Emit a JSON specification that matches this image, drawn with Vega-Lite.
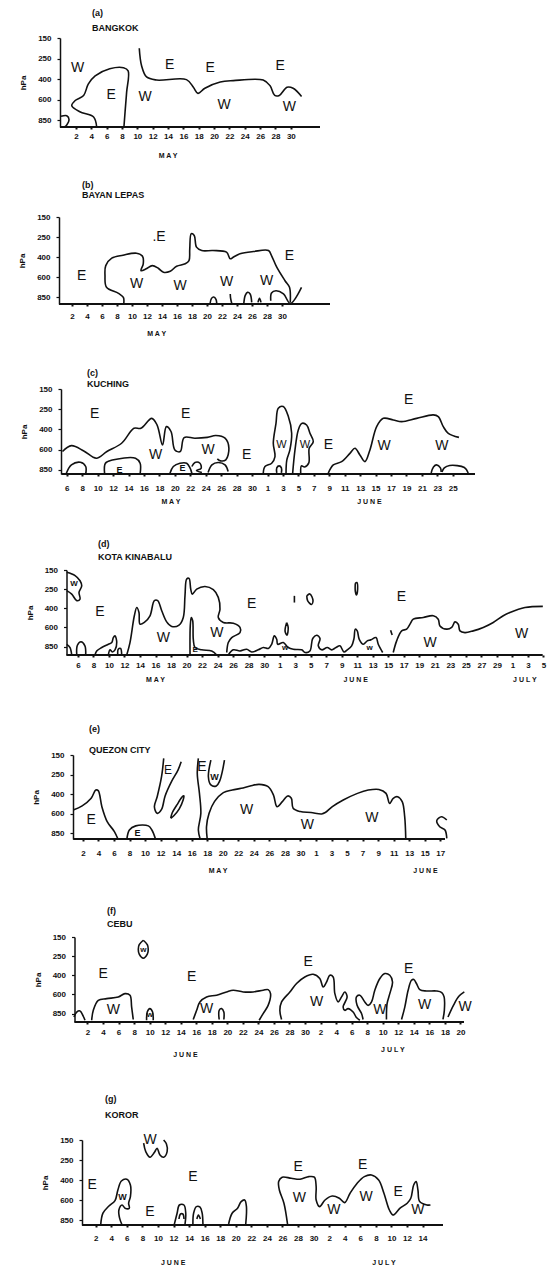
{
"$schema":"https://vega.github.io/schema/vega-lite/v6.json",
"padding":{"left":18,"top":8,"right":5,"bottom":0},
"spacing":20,
"config":{"view":{"stroke":null},
"axis":{"labelFont":"Liberation Sans","labelFontWeight":"bold","labelFontSize":8,"labelColor":"#111","domainColor":"#111","tickColor":"#111","titleFont":"Liberation Sans","titleFontSize":8,"titleFontWeight":"bold","titleColor":"#111","grid":false,"labelOverlap":false,"labelFlush":false,"labelBound":false},
"axisX":{"domain":false,"tickSize":2,"tickWidth":2},
"axisY":{"domainWidth":1.5,"tickSize":3,"tickWidth":1.2,"labelPadding":6,"titlePadding":10},
"title":{"font":"Liberation Sans","fontSize":9,"fontWeight":"bold","anchor":"start","frame":"group","color":"#111"},
"line":{"interpolate":"catmull-rom","strokeWidth":1.6,"color":"#111"},
"rule":{"strokeWidth":2,"color":"#111"},
"text":{"font":"Liberation Sans","color":"#111"}},
"vconcat":[
{"width":261,"height":89,
"title":{"text":["(a)","BANGKOK"],"dx":33,"offset":1.5,"lineHeight":15},
"encoding":{"x":{"field":"x","type":"quantitative","scale":{"domain":[-0.21,33.8],"nice":false,"zero":false},"axis":{"title":null,"values":[2,4,6,8,10,12,14,16,18,20,22,24,26,28,30],"labelPadding":3}},
"y":{"field":"y","type":"quantitative","scale":{"domain":[-0.34,4],"nice":false,"zero":false},"axis":{"title":"hPa","values":[0,1,2,3,4],"labelExpr":"['850','600','400','250','150'][datum.value]","offset":-1}}},
"layer":[
{"data":{"values":[{"x":-0.08,"x2":33.8,"y":-0.34}]},"mark":"rule","encoding":{"x2":{"field":"x2"}}},
{"data":{"values":[
{"g":"a1","x":0.05,"y":0.18},{"g":"a1","x":0.8,"y":0.21},{"g":"a1","x":1.1,"y":0.01},{"g":"a1","x":0.8,"y":-0.24},{"g":"a1","x":0.5,"y":-0.34},
{"g":"a2","x":4.7,"y":-0.34},{"g":"a2","x":4.3,"y":0.15},{"g":"a2","x":2.5,"y":0.4},{"g":"a2","x":1.45,"y":0.7},{"g":"a2","x":1.9,"y":0.95},{"g":"a2","x":3.0,"y":1.2},{"g":"a2","x":3.6,"y":1.75},{"g":"a2","x":4.5,"y":2.15},{"g":"a2","x":6.4,"y":2.5},{"g":"a2","x":8.2,"y":2.55},{"g":"a2","x":8.8,"y":2.4},{"g":"a2","x":8.6,"y":1.35},{"g":"a2","x":8.4,"y":0.4},{"g":"a2","x":8.25,"y":-0.34},
{"g":"a3","x":10.25,"y":3.5},{"g":"a3","x":10.55,"y":2.65},{"g":"a3","x":11.2,"y":2.1},{"g":"a3","x":12.5,"y":1.95},{"g":"a3","x":16.4,"y":1.97},{"g":"a3","x":17.3,"y":1.6},{"g":"a3","x":17.9,"y":1.3},{"g":"a3","x":18.8,"y":1.55},{"g":"a3","x":20.8,"y":1.85},{"g":"a3","x":22.5,"y":1.92},{"g":"a3","x":26.4,"y":1.95},{"g":"a3","x":27.3,"y":1.67},{"g":"a3","x":27.9,"y":1.2},{"g":"a3","x":28.5,"y":1.2},{"g":"a3","x":29.5,"y":1.6},{"g":"a3","x":30.3,"y":1.55},{"g":"a3","x":31.4,"y":1.15}
]},"mark":"line","encoding":{"detail":{"field":"g"},"order":{"value":null}}},
{"data":{"values":[{"x":2.2,"y":2.55,"t":"W"},{"x":6.6,"y":1.2,"t":"E"},{"x":11,"y":1.1,"t":"W"},{"x":14.2,"y":2.7,"t":"E"},{"x":19.5,"y":2.55,"t":"E"},{"x":21.3,"y":0.73,"t":"W"},{"x":28.6,"y":2.65,"t":"E"},{"x":29.8,"y":0.65,"t":"W"}]},"mark":{"type":"text","fontSize":14},"encoding":{"text":{"field":"t"}}},
{"data":{"values":[{"x":14.0,"y":-1.76,"t":"M A Y"}]},"mark":{"type":"text","fontSize":7,"fontWeight":"bold"},"encoding":{"text":{"field":"t"}}}
]},
{"width":271,"height":87,
"title":{"text":["(b)","BAYAN LEPAS"],"dx":23,"offset":13.3,"lineHeight":10},
"encoding":{"x":{"field":"x","type":"quantitative","scale":{"domain":[0.267,36.4],"nice":false,"zero":false},"axis":{"title":null,"values":[2,4,6,8,10,12,14,16,18,20,22,24,26,28,30],"labelPadding":6}},
"y":{"field":"y","type":"quantitative","scale":{"domain":[-0.33,4],"nice":false,"zero":false},"axis":{"title":"hPa","values":[0,1,2,3,4],"labelExpr":"['850','600','400','250','150'][datum.value]","offset":0}}},
"layer":[
{"data":{"values":[{"x":0.27,"x2":36.4,"y":-0.33}]},"mark":"rule","encoding":{"x2":{"field":"x2"}}},
{"data":{"values":[
{"g":"b1","x":8.9,"y":-0.33},{"g":"b1","x":8.85,"y":0},{"g":"b1","x":8.2,"y":0.2},{"g":"b1","x":6.6,"y":0.5},{"g":"b1","x":6.4,"y":1.08},{"g":"b1","x":6.5,"y":1.58},{"g":"b1","x":7.3,"y":1.95},{"g":"b1","x":8.8,"y":2.1},{"g":"b1","x":10.6,"y":2.2},{"g":"b1","x":11.4,"y":2.05},{"g":"b1","x":11.5,"y":1.67},{"g":"b1","x":11.2,"y":1.33},{"g":"b1","x":11.9,"y":1.42},{"g":"b1","x":12.7,"y":1.58},{"g":"b1","x":13.5,"y":1.45},{"g":"b1","x":14.2,"y":1.25},{"g":"b1","x":15.1,"y":1.3},{"g":"b1","x":15.95,"y":1.55},{"g":"b1","x":17.1,"y":1.67},{"g":"b1","x":17.6,"y":1.83},{"g":"b1","x":17.7,"y":2.4},{"g":"b1","x":17.9,"y":3.17},{"g":"b1","x":18.3,"y":3.08},{"g":"b1","x":18.6,"y":2.5},{"g":"b1","x":19.3,"y":2.33},{"g":"b1","x":20.8,"y":2.33},{"g":"b1","x":22.6,"y":2.25},{"g":"b1","x":23.1,"y":1.92},{"g":"b1","x":23.5,"y":2.0},{"g":"b1","x":24.4,"y":2.17},{"g":"b1","x":26.2,"y":2.28},{"g":"b1","x":28.2,"y":2.33},{"g":"b1","x":28.6,"y":2.08},{"g":"b1","x":29.3,"y":1.5},{"g":"b1","x":30.4,"y":0.83},{"g":"b1","x":31.0,"y":0.5},{"g":"b1","x":31.1,"y":-0.25},
{"g":"b2","x":28.5,"y":-0.17},{"g":"b2","x":28.6,"y":0.22},{"g":"b2","x":29.2,"y":0.33},{"g":"b2","x":30.2,"y":0.17},{"g":"b2","x":31.1,"y":-0.3},{"g":"b2","x":32.6,"y":0.5},
{"g":"b3","x":20.4,"y":-0.33},{"g":"b3","x":20.6,"y":-0.05},{"g":"b3","x":20.9,"y":0.02},{"g":"b3","x":21.2,"y":-0.1},{"g":"b3","x":21.3,"y":-0.3},
{"g":"b4","x":23.1,"y":0.17},{"g":"b4","x":23.15,"y":-0.05},{"g":"b4","x":23.3,"y":-0.3},
{"g":"b5","x":24.9,"y":-0.33},{"g":"b5","x":25.1,"y":0.1},{"g":"b5","x":25.4,"y":0.25},{"g":"b5","x":25.75,"y":0.17},{"g":"b5","x":25.96,"y":-0.25},
{"g":"b6","x":26.8,"y":-0.25},{"g":"b6","x":27.0,"y":-0.05},{"g":"b6","x":27.2,"y":-0.25}
]},"mark":"line","encoding":{"detail":{"field":"g"},"order":{"value":null}}},
{"data":{"values":[{"x":3.3,"y":1.08,"t":"E"},{"x":13.6,"y":3.0,"t":".E"},{"x":10.6,"y":0.67,"t":"W"},{"x":16.4,"y":0.58,"t":"W"},{"x":22.6,"y":0.75,"t":"W"},{"x":27.96,"y":0.83,"t":"W"},{"x":31,"y":2.08,"t":"E"}]},"mark":{"type":"text","fontSize":14},"encoding":{"text":{"field":"t"}}},
{"data":{"values":[{"x":13.3,"y":-1.84,"t":"M A Y"}]},"mark":{"type":"text","fontSize":7,"fontWeight":"bold"},"encoding":{"text":{"field":"t"}}}
]},
{"width":416,"height":85,
"title":{"text":["","(c)","KUCHING"],"dx":28,"offset":-4.3,"lineHeight":11},
"encoding":{"x":{"field":"x","type":"quantitative","scale":{"domain":[4.99,58.88],"nice":false,"zero":false},"axis":{"title":null,"values":[6,8,10,12,14,16,18,20,22,24,26,28,30,32,34,36,38,40,42,44,46,48,50,52,54,56],"labelExpr":"datum.value > 31 ? datum.value - 31 : datum.value","labelPadding":8}},
"y":{"field":"y","type":"quantitative","scale":{"domain":[-0.2,4],"nice":false,"zero":false},"axis":{"title":"hPa","values":[0,1,2,3,4],"labelExpr":"['850','600','400','250','150'][datum.value]","offset":-2}}},
"layer":[
{"data":{"values":[{"x":5.3,"x2":58.88,"y":-0.2}]},"mark":"rule","encoding":{"x2":{"field":"x2"}}},
{"data":{"values":[
{"g":"c1","x":5.44,"y":0.91},{"g":"c1","x":6.6,"y":1.2},{"g":"c1","x":8.2,"y":0.94},{"g":"c1","x":9.83,"y":0.58},{"g":"c1","x":11.2,"y":0.91},{"g":"c1","x":13.1,"y":1.32},{"g":"c1","x":14.7,"y":2.06},{"g":"c1","x":15.6,"y":2.06},{"g":"c1","x":17.0,"y":2.55},{"g":"c1","x":17.7,"y":2.22},{"g":"c1","x":18.4,"y":1.23},{"g":"c1","x":18.9,"y":2.14},{"g":"c1","x":19.5,"y":1.9},{"g":"c1","x":20.0,"y":0.99},{"g":"c1","x":20.7,"y":0.91},{"g":"c1","x":21.2,"y":1.6},{"g":"c1","x":22.6,"y":1.57},{"g":"c1","x":24.2,"y":1.61},{"g":"c1","x":25.3,"y":1.7},{"g":"c1","x":26.5,"y":1.57},{"g":"c1","x":27.0,"y":1.07},{"g":"c1","x":26.6,"y":0.5},{"g":"c1","x":25.9,"y":0.45},{"g":"c1","x":25.5,"y":0.55},
{"g":"c2","x":5.9,"y":-0.2},{"g":"c2","x":6.6,"y":0.25},{"g":"c2","x":7.76,"y":0.38},{"g":"c2","x":8.45,"y":0.17},{"g":"c2","x":8.45,"y":-0.2},
{"g":"c3","x":10.9,"y":-0.2},{"g":"c3","x":11.0,"y":0.33},{"g":"c3","x":11.9,"y":0.49},{"g":"c3","x":14.9,"y":0.58},{"g":"c3","x":15.5,"y":0.33},{"g":"c3","x":15.5,"y":-0.2},
{"g":"c4","x":19.37,"y":-0.16},{"g":"c4","x":19.8,"y":0.17},{"g":"c4","x":20.66,"y":0.33},{"g":"c4","x":21.53,"y":0.33},{"g":"c4","x":21.96,"y":0.1},{"g":"c4","x":22.2,"y":-0.16},
{"g":"c5","x":22.2,"y":0.17},{"g":"c5","x":22.6,"y":0.37},{"g":"c5","x":23.25,"y":0.33},{"g":"c5","x":23.4,"y":0.08},{"g":"c5","x":22.8,"y":-0.03},{"g":"c5","x":23.5,"y":-0.13},
{"g":"c6","x":24.3,"y":-0.13},{"g":"c6","x":24.8,"y":0.25},{"g":"c6","x":25.6,"y":0.37},{"g":"c6","x":26.5,"y":0.25},{"g":"c6","x":26.9,"y":-0.08},
{"g":"c7","x":31.45,"y":-0.16},{"g":"c7","x":31.67,"y":0.17},{"g":"c7","x":32.54,"y":0.33},{"g":"c7","x":32.97,"y":0.66},{"g":"c7","x":32.75,"y":1.32},{"g":"c7","x":33.1,"y":2.3},{"g":"c7","x":33.4,"y":3.05},{"g":"c7","x":34.04,"y":3.13},{"g":"c7","x":34.7,"y":2.64},{"g":"c7","x":35.13,"y":1.81},{"g":"c7","x":34.9,"y":0.99},{"g":"c7","x":34.5,"y":0.49},{"g":"c7","x":34.4,"y":-0.16},
{"g":"c8","x":33.2,"y":-0.15},{"g":"c8","x":33.2,"y":0.1},{"g":"c8","x":33.5,"y":0.2},{"g":"c8","x":33.8,"y":0.1},{"g":"c8","x":33.8,"y":-0.15},
{"g":"c9","x":35.26,"y":-0.16},{"g":"c9","x":35.56,"y":0.99},{"g":"c9","x":35.99,"y":1.98},{"g":"c9","x":36.43,"y":2.3},{"g":"c9","x":37.07,"y":2.22},{"g":"c9","x":37.5,"y":1.81},{"g":"c9","x":37.93,"y":1.4},{"g":"c9","x":37.4,"y":1.07},{"g":"c9","x":37.35,"y":0.35},{"g":"c9","x":36.8,"y":0.15},{"g":"c9","x":36.4,"y":0.2},{"g":"c9","x":36.3,"y":-0.16},
{"g":"c10","x":39.87,"y":-0.16},{"g":"c10","x":40.52,"y":0.25},{"g":"c10","x":41.6,"y":0.41},{"g":"c10","x":42.68,"y":0.82},{"g":"c10","x":43.33,"y":1.07},{"g":"c10","x":43.97,"y":0.74},{"g":"c10","x":44.62,"y":0.41},{"g":"c10","x":45.27,"y":0.99},{"g":"c10","x":46.14,"y":2.14},{"g":"c10","x":47.0,"y":2.55},{"g":"c10","x":48.3,"y":2.47},{"g":"c10","x":49.38,"y":2.39},{"g":"c10","x":51.32,"y":2.55},{"g":"c10","x":53.47,"y":2.72},{"g":"c10","x":54.12,"y":2.64},{"g":"c10","x":54.77,"y":2.14},{"g":"c10","x":55.42,"y":1.81},{"g":"c10","x":56.8,"y":1.61},
{"g":"c11","x":53.2,"y":-0.15},{"g":"c11","x":53.5,"y":0.15},{"g":"c11","x":53.9,"y":0.25},{"g":"c11","x":54.4,"y":0.1},{"g":"c11","x":54.5,"y":-0.1},
{"g":"c12","x":54.6,"y":-0.1},{"g":"c12","x":54.9,"y":0.1},{"g":"c12","x":55.6,"y":0.22},{"g":"c12","x":57.5,"y":0.12},{"g":"c12","x":58.0,"y":-0.15}
]},"mark":"line","encoding":{"detail":{"field":"g"},"order":{"value":null}}},
{"data":{"values":[{"x":9.6,"y":2.75,"t":"E"},{"x":21.4,"y":2.75,"t":"E"},{"x":17.5,"y":0.74,"t":"W"},{"x":24.3,"y":0.99,"t":"W"},{"x":29.3,"y":0.74,"t":"E"},{"x":39.9,"y":1.23,"t":"E"},{"x":50.3,"y":3.46,"t":"E"},{"x":47.1,"y":1.16,"t":"W"},{"x":54.6,"y":1.16,"t":"W"}]},"mark":{"type":"text","fontSize":14},"encoding":{"text":{"field":"t"}}},
{"data":{"values":[{"x":33.8,"y":1.23,"t":"W"},{"x":36.85,"y":1.23,"t":"W"}]},"mark":{"type":"text","fontSize":11},"encoding":{"text":{"field":"t"}}},
{"data":{"values":[{"x":12.84,"y":0.0,"t":"E"},{"x":21.0,"y":0.08,"t":"E"}]},"mark":{"type":"text","fontSize":9,"fontWeight":"bold"},"encoding":{"text":{"field":"t"}}},
{"data":{"values":[{"x":19.5,"y":-1.6,"t":"M A Y"},{"x":45.2,"y":-1.6,"t":"J U N E"}]},"mark":{"type":"text","fontSize":7,"fontWeight":"bold"},"encoding":{"text":{"field":"t"}}}
]},
{"width":486,"height":85,
"title":{"text":["","(d)","KOTA KINABALU"],"dx":39,"offset":4.1,"lineHeight":13.3},
"encoding":{"x":{"field":"x","type":"quantitative","scale":{"domain":[3.56,66.2],"nice":false,"zero":false},"axis":{"title":null,"values":[6,8,10,12,14,16,18,20,22,24,26,28,30,32,34,36,38,40,42,44,46,48,50,52,54,56,58,60,62,64,66],"labelExpr":"datum.value > 61 ? datum.value - 61 : (datum.value > 31 ? datum.value - 31 : datum.value)","labelPadding":4}},
"y":{"field":"y","type":"quantitative","scale":{"domain":[-0.44,4],"nice":false,"zero":false},"axis":{"title":"hPa","values":[0,1,2,3,4],"labelExpr":"['850','600','400','250','150'][datum.value]","offset":-7.5}}},
"layer":[
{"data":{"values":[{"x":4.53,"x2":65.9,"y":-0.44}]},"mark":"rule","encoding":{"x2":{"field":"x2"}}},
{"data":{"values":[
{"g":"d1","x":4.56,"y":3.88},{"g":"d1","x":5.63,"y":3.71},{"g":"d1","x":6.27,"y":3.44},{"g":"d1","x":6.49,"y":3.18},{"g":"d1","x":6.14,"y":2.83},{"g":"d1","x":6.27,"y":2.48},{"g":"d1","x":5.85,"y":2.4},{"g":"d1","x":5.2,"y":2.74},{"g":"d1","x":4.56,"y":2.92},
{"g":"d2","x":4.56,"y":0.12},{"g":"d2","x":4.98,"y":-0.05},{"g":"d2","x":5.2,"y":-0.44},
{"g":"d3","x":5.85,"y":-0.44},{"g":"d3","x":5.93,"y":0.07},{"g":"d3","x":6.4,"y":0.25},{"g":"d3","x":6.9,"y":0.04},{"g":"d3","x":7.0,"y":-0.44},
{"g":"d4","x":8.2,"y":-0.44},{"g":"d4","x":8.42,"y":-0.23},{"g":"d4","x":9.07,"y":-0.05},{"g":"d4","x":9.92,"y":0.12},{"g":"d4","x":10.36,"y":0.21},{"g":"d4","x":10.56,"y":0.47},{"g":"d4","x":10.78,"y":0.56},{"g":"d4","x":11.0,"y":0.21},{"g":"d4","x":10.78,"y":-0.17},{"g":"d4","x":10.43,"y":-0.28},{"g":"d4","x":10.14,"y":-0.17},{"g":"d4","x":9.92,"y":-0.44},
{"g":"d5","x":11.13,"y":-0.44},{"g":"d5","x":11.2,"y":-0.14},{"g":"d5","x":11.5,"y":-0.1},{"g":"d5","x":11.64,"y":-0.44},
{"g":"d6","x":12.29,"y":-0.44},{"g":"d6","x":12.71,"y":0.21},{"g":"d6","x":13.27,"y":1.61},{"g":"d6","x":13.58,"y":2.04},{"g":"d6","x":13.87,"y":1.78},{"g":"d6","x":14.0,"y":1.17},{"g":"d6","x":14.56,"y":1.26},{"g":"d6","x":15.29,"y":1.61},{"g":"d6","x":15.85,"y":2.4},{"g":"d6","x":16.28,"y":2.4},{"g":"d6","x":16.8,"y":1.87},{"g":"d6","x":17.44,"y":1.29},{"g":"d6","x":18.09,"y":1.05},{"g":"d6","x":19.03,"y":1.12},{"g":"d6","x":19.58,"y":1.52},{"g":"d6","x":19.8,"y":2.66},{"g":"d6","x":20.02,"y":3.53},{"g":"d6","x":20.32,"y":3.56},{"g":"d6","x":20.54,"y":3.0},{"g":"d6","x":20.74,"y":2.74},{"g":"d6","x":21.31,"y":3.0},{"g":"d6","x":22.38,"y":3.14},{"g":"d6","x":23.45,"y":2.97},{"g":"d6","x":24.09,"y":2.57},{"g":"d6","x":24.31,"y":1.95},{"g":"d6","x":24.09,"y":1.52},{"g":"d6","x":24.74,"y":1.26},{"g":"d6","x":26.03,"y":1.22},{"g":"d6","x":26.89,"y":1.0},{"g":"d6","x":26.89,"y":0.73},{"g":"d6","x":25.82,"y":0.47},{"g":"d6","x":25.38,"y":0.21},{"g":"d6","x":25.18,"y":-0.31},
{"g":"d7","x":20.45,"y":-0.44},{"g":"d7","x":20.48,"y":1.08},{"g":"d7","x":20.61,"y":1.52},{"g":"d7","x":20.79,"y":1.35},{"g":"d7","x":20.87,"y":0.38},{"g":"d7","x":21.09,"y":-0.05},{"g":"d7","x":21.95,"y":-0.17},{"g":"d7","x":23.24,"y":-0.23},{"g":"d7","x":23.89,"y":-0.44},
{"g":"d8","x":25.38,"y":-0.44},{"g":"d8","x":26.03,"y":-0.17},{"g":"d8","x":26.89,"y":-0.23},{"g":"d8","x":27.75,"y":-0.14},{"g":"d8","x":28.4,"y":-0.28},{"g":"d8","x":29.25,"y":-0.17},{"g":"d8","x":29.9,"y":-0.05},{"g":"d8","x":30.54,"y":-0.1},{"g":"d8","x":30.97,"y":0.12},{"g":"d8","x":31.31,"y":0.56},{"g":"d8","x":31.62,"y":0.38},{"g":"d8","x":31.75,"y":0.12},{"g":"d8","x":32.47,"y":0.21},{"g":"d8","x":33.11,"y":-0.05},{"g":"d8","x":33.76,"y":-0.14},{"g":"d8","x":34.84,"y":-0.17},{"g":"d8","x":35.27,"y":-0.31},{"g":"d8","x":35.9,"y":-0.23},{"g":"d8","x":36.26,"y":0.42},{"g":"d8","x":36.77,"y":0.59},{"g":"d8","x":37.2,"y":0.42},{"g":"d8","x":36.98,"y":0.04},{"g":"d8","x":37.42,"y":-0.17},{"g":"d8","x":38.14,"y":-0.05},{"g":"d8","x":38.7,"y":-0.17},{"g":"d8","x":39.26,"y":-0.05},{"g":"d8","x":39.77,"y":0.04},{"g":"d8","x":40.29,"y":-0.28},{"g":"d8","x":40.72,"y":-0.17},{"g":"d8","x":41.28,"y":0.04},{"g":"d8","x":41.58,"y":0.42},{"g":"d8","x":41.75,"y":0.91},{"g":"d8","x":42.0,"y":0.82},{"g":"d8","x":42.26,"y":0.38},{"g":"d8","x":42.78,"y":0.12},{"g":"d8","x":43.29,"y":0.3},{"g":"d8","x":43.73,"y":0.35},{"g":"d8","x":44.42,"y":0.47},{"g":"d8","x":44.71,"y":0.12},{"g":"d8","x":45.28,"y":-0.31},
{"g":"d9","x":32.9,"y":1.25},{"g":"d9","x":33.1,"y":1.0},{"g":"d9","x":32.95,"y":0.6},{"g":"d9","x":32.7,"y":0.8},{"g":"d9","x":32.9,"y":1.25},
{"g":"d10","x":33.9,"y":2.65},{"g":"d10","x":33.9,"y":2.3},
{"g":"d11","x":35.5,"y":2.65},{"g":"d11","x":35.9,"y":2.75},{"g":"d11","x":36.3,"y":2.4},{"g":"d11","x":36.1,"y":2.2},{"g":"d11","x":35.6,"y":2.4},{"g":"d11","x":35.5,"y":2.65},
{"g":"d12","x":41.75,"y":3.3},{"g":"d12","x":41.95,"y":3.35},{"g":"d12","x":42.05,"y":3.0},{"g":"d12","x":41.9,"y":2.7},{"g":"d12","x":41.75,"y":2.9},{"g":"d12","x":41.75,"y":3.3},
{"g":"d13","x":46.3,"y":0.85},{"g":"d13","x":46.5,"y":0.6},
{"g":"d14","x":46.64,"y":-0.31},{"g":"d14","x":47.08,"y":0.3},{"g":"d14","x":47.73,"y":0.82},{"g":"d14","x":48.37,"y":0.91},{"g":"d14","x":48.8,"y":1.17},{"g":"d14","x":49.22,"y":1.43},{"g":"d14","x":50.51,"y":1.52},{"g":"d14","x":51.8,"y":1.61},{"g":"d14","x":52.44,"y":1.43},{"g":"d14","x":52.66,"y":1.08},{"g":"d14","x":53.53,"y":0.91},{"g":"d14","x":54.17,"y":1.0},{"g":"d14","x":54.6,"y":1.29},{"g":"d14","x":55.02,"y":1.17},{"g":"d14","x":55.24,"y":0.82},{"g":"d14","x":55.88,"y":0.73},{"g":"d14","x":56.95,"y":0.82},{"g":"d14","x":58.24,"y":1.0},{"g":"d14","x":59.53,"y":1.26},{"g":"d14","x":60.82,"y":1.61},{"g":"d14","x":61.68,"y":1.78},{"g":"d14","x":63.62,"y":2.04},{"g":"d14","x":65.92,"y":2.1}
]},"mark":"line","encoding":{"detail":{"field":"g"},"order":{"value":null}}},
{"data":{"values":[{"x":8.85,"y":1.82,"t":"E"},{"x":17.0,"y":0.47,"t":"W"},{"x":23.9,"y":0.73,"t":"W"},{"x":28.4,"y":2.22,"t":"E"},{"x":47.7,"y":2.57,"t":"E"},{"x":51.4,"y":0.21,"t":"W"},{"x":63.2,"y":0.64,"t":"W"}]},"mark":{"type":"text","fontSize":14},"encoding":{"text":{"field":"t"}}},
{"data":{"values":[{"x":5.5,"y":3.27,"t":"W"},{"x":21.1,"y":-0.17,"t":"E"},{"x":32.7,"y":-0.05,"t":"w"},{"x":43.6,"y":-0.05,"t":"w"}]},"mark":{"type":"text","fontSize":8,"fontWeight":"bold"},"encoding":{"text":{"field":"t"}}},
{"data":{"values":[{"x":16.0,"y":-1.77,"t":"M A Y"},{"x":41.8,"y":-1.77,"t":"J U N E"},{"x":63.6,"y":-1.77,"t":"J U L Y"}]},"mark":{"type":"text","fontSize":7,"fontWeight":"bold"},"encoding":{"text":{"field":"t"}}}
]},
{"width":386,"height":84,
"title":{"text":["","(e)","QUEZON CITY"],"dx":30,"offset":-4.4,"lineHeight":21},
"encoding":{"x":{"field":"x","type":"quantitative","scale":{"domain":[-1.08,48.61],"nice":false,"zero":false},"axis":{"title":null,"values":[2,4,6,8,10,12,14,16,18,20,22,24,26,28,30,32,34,36,38,40,42,44,46,48],"labelExpr":"datum.value > 31 ? datum.value - 31 : datum.value","labelPadding":8}},
"y":{"field":"y","type":"quantitative","scale":{"domain":[-0.29,4],"nice":false,"zero":false},"axis":{"title":"hPa","values":[0,1,2,3,4],"labelExpr":"['850','600','400','250','150'][datum.value]","offset":-14}}},
"layer":[
{"data":{"values":[{"x":0.75,"x2":48.61,"y":-0.29}]},"mark":"rule","encoding":{"x2":{"field":"x2"}}},
{"data":{"values":[
{"g":"e1","x":0.75,"y":1.19},{"g":"e1","x":1.9,"y":1.4},{"g":"e1","x":3.06,"y":1.79},{"g":"e1","x":3.65,"y":2.21},{"g":"e1","x":3.97,"y":2.18},{"g":"e1","x":4.44,"y":1.36},{"g":"e1","x":5.12,"y":0.6},{"g":"e1","x":6.05,"y":0.09},{"g":"e1","x":6.51,"y":-0.29},
{"g":"e2","x":7.66,"y":-0.29},{"g":"e2","x":7.98,"y":0.17},{"g":"e2","x":8.8,"y":0.38},{"g":"e2","x":10.42,"y":0.38},{"g":"e2","x":10.88,"y":0.17},{"g":"e2","x":11.34,"y":-0.29},
{"g":"e3","x":12.4,"y":3.83},{"g":"e3","x":12.12,"y":2.89},{"g":"e3","x":11.56,"y":1.87},{"g":"e3","x":11.2,"y":1.36},{"g":"e3","x":11.56,"y":1.02},{"g":"e3","x":12.12,"y":1.22},{"g":"e3","x":12.58,"y":1.91},{"g":"e3","x":13.4,"y":2.64},{"g":"e3","x":14.24,"y":3.23},{"g":"e3","x":14.65,"y":3.66},
{"g":"e4","x":13.3,"y":0.77},{"g":"e4","x":13.7,"y":0.9},{"g":"e4","x":14.4,"y":1.25},{"g":"e4","x":14.9,"y":1.7},{"g":"e4","x":15.0,"y":1.91},{"g":"e4","x":14.75,"y":1.85},{"g":"e4","x":14.1,"y":1.45},{"g":"e4","x":13.5,"y":1.05},{"g":"e4","x":13.3,"y":0.77},
{"g":"e5","x":16.86,"y":3.83},{"g":"e5","x":16.72,"y":3.06},{"g":"e5","x":17.0,"y":2.04},{"g":"e5","x":17.18,"y":1.02},{"g":"e5","x":16.86,"y":0.17},{"g":"e5","x":17.09,"y":-0.29},
{"g":"e6","x":18.47,"y":3.74},{"g":"e6","x":18.15,"y":2.89},{"g":"e6","x":18.47,"y":2.47},{"g":"e6","x":19.17,"y":2.42},{"g":"e6","x":19.62,"y":2.69},{"g":"e6","x":19.94,"y":3.15},{"g":"e6","x":20.22,"y":3.74},
{"g":"e7","x":18.0,"y":-0.29},{"g":"e7","x":17.91,"y":0.34},{"g":"e7","x":18.24,"y":1.02},{"g":"e7","x":18.93,"y":1.62},{"g":"e7","x":20.08,"y":2.08},{"g":"e7","x":21.23,"y":2.21},{"g":"e7","x":22.39,"y":2.3},{"g":"e7","x":23.53,"y":2.42},{"g":"e7","x":24.68,"y":2.5},{"g":"e7","x":25.84,"y":2.38},{"g":"e7","x":26.52,"y":1.96},{"g":"e7","x":26.99,"y":1.36},{"g":"e7","x":27.67,"y":1.62},{"g":"e7","x":28.37,"y":1.91},{"g":"e7","x":28.83,"y":1.79},{"g":"e7","x":29.06,"y":1.28},{"g":"e7","x":29.98,"y":1.11},{"g":"e7","x":31.36,"y":1.06},{"g":"e7","x":32.73,"y":0.99},{"g":"e7","x":33.2,"y":1.06},{"g":"e7","x":34.11,"y":1.36},{"g":"e7","x":35.51,"y":1.7},{"g":"e7","x":37.34,"y":2.04},{"g":"e7","x":38.73,"y":2.21},{"g":"e7","x":40.1,"y":2.24},{"g":"e7","x":41.02,"y":2.04},{"g":"e7","x":41.48,"y":1.53},{"g":"e7","x":41.95,"y":1.79},{"g":"e7","x":42.49,"y":1.87},{"g":"e7","x":43.1,"y":1.62},{"g":"e7","x":43.42,"y":0.85},{"g":"e7","x":43.56,"y":-0.29},
{"g":"e8","x":48.84,"y":0.68},{"g":"e8","x":48.16,"y":0.85},{"g":"e8","x":47.55,"y":0.65},{"g":"e8","x":47.93,"y":0.34},{"g":"e8","x":48.61,"y":0.17},{"g":"e8","x":48.84,"y":-0.26}
]},"mark":"line","encoding":{"detail":{"field":"g"},"order":{"value":null}}},
{"data":{"values":[{"x":3.06,"y":0.68,"t":"E"},{"x":17.32,"y":3.4,"t":"E"},{"x":23.07,"y":1.19,"t":"W"},{"x":30.89,"y":0.43,"t":"W"},{"x":39.18,"y":0.77,"t":"W"}]},"mark":{"type":"text","fontSize":14},"encoding":{"text":{"field":"t"}}},
{"data":{"values":[{"x":12.96,"y":3.23,"t":"E"}]},"mark":{"type":"text","fontSize":12},"encoding":{"text":{"field":"t"}}},
{"data":{"values":[{"x":9.04,"y":0.03,"t":"E"},{"x":18.93,"y":2.89,"t":"W"}]},"mark":{"type":"text","fontSize":9,"fontWeight":"bold"},"encoding":{"text":{"field":"t"}}},
{"data":{"values":[{"x":19.4,"y":-1.9,"t":"M A Y"},{"x":46.1,"y":-1.9,"t":"J U N E"}]},"mark":{"type":"text","fontSize":7,"fontWeight":"bold"},"encoding":{"text":{"field":"t"}}}
]},
{"width":405,"height":85,
"title":{"text":["","(f)","CEBU"],"dx":48,"offset":3.7,"lineHeight":13},
"encoding":{"x":{"field":"x","type":"quantitative","scale":{"domain":[-1.666,50.46],"nice":false,"zero":false},"axis":{"title":null,"values":[2,4,6,8,10,12,14,16,18,20,22,24,26,28,30,32,34,36,38,40,42,44,46,48,50],"labelExpr":"datum.value > 30 ? datum.value - 30 : datum.value","labelPadding":4}},
"y":{"field":"y","type":"quantitative","scale":{"domain":[-0.44,4],"nice":false,"zero":false},"axis":{"title":"hPa","values":[0,1,2,3,4],"labelExpr":"['850','600','400','250','150'][datum.value]","offset":-15.5}}},
"layer":[
{"data":{"values":[{"x":0.33,"x2":50.46,"y":-0.44}]},"mark":"rule","encoding":{"x2":{"field":"x2"}}},
{"data":{"values":[
{"g":"f1","x":0.26,"y":-0.18},{"g":"f1","x":0.61,"y":0.08},{"g":"f1","x":1.04,"y":0.14},{"g":"f1","x":1.46,"y":-0.14},{"g":"f1","x":1.68,"y":-0.35},
{"g":"f2","x":2.54,"y":-0.35},{"g":"f2","x":2.75,"y":0.17},{"g":"f2","x":3.39,"y":0.69},{"g":"f2","x":4.47,"y":0.78},{"g":"f2","x":5.96,"y":0.87},{"g":"f2","x":6.82,"y":1.04},{"g":"f2","x":7.47,"y":0.96},{"g":"f2","x":7.68,"y":0.35},{"g":"f2","x":7.89,"y":-0.31},
{"g":"f3","x":9.18,"y":3.83},{"g":"f3","x":9.7,"y":3.6},{"g":"f3","x":9.82,"y":3.36},{"g":"f3","x":9.7,"y":3.1},{"g":"f3","x":9.18,"y":2.89},{"g":"f3","x":8.66,"y":3.1},{"g":"f3","x":8.54,"y":3.36},{"g":"f3","x":8.66,"y":3.6},{"g":"f3","x":9.18,"y":3.83},
{"g":"f4","x":9.61,"y":-0.35},{"g":"f4","x":9.69,"y":0.08},{"g":"f4","x":10.03,"y":0.26},{"g":"f4","x":10.38,"y":0.08},{"g":"f4","x":10.46,"y":-0.35},
{"g":"f5","x":15.61,"y":-0.31},{"g":"f5","x":16.05,"y":0.17},{"g":"f5","x":16.47,"y":0.61},{"g":"f5","x":17.33,"y":0.87},{"g":"f5","x":18.62,"y":0.96},{"g":"f5","x":19.9,"y":1.13},{"g":"f5","x":20.75,"y":1.22},{"g":"f5","x":22.04,"y":1.13},{"g":"f5","x":23.32,"y":1.13},{"g":"f5","x":24.61,"y":1.22},{"g":"f5","x":25.25,"y":1.25},{"g":"f5","x":25.56,"y":1.04},{"g":"f5","x":25.25,"y":0.43},{"g":"f5","x":24.61,"y":0},{"g":"f5","x":24.1,"y":-0.35},
{"g":"f6","x":18.95,"y":-0.31},{"g":"f6","x":18.95,"y":0.17},{"g":"f6","x":19.26,"y":0.26},{"g":"f6","x":19.55,"y":0.08},{"g":"f6","x":19.55,"y":-0.31},
{"g":"f7","x":26.98,"y":-0.31},{"g":"f7","x":26.76,"y":0.17},{"g":"f7","x":26.98,"y":0.61},{"g":"f7","x":28.05,"y":1.13},{"g":"f7","x":28.91,"y":1.57},{"g":"f7","x":29.97,"y":1.91},{"g":"f7","x":31.04,"y":2.05},{"g":"f7","x":31.9,"y":1.83},{"g":"f7","x":32.33,"y":1.39},{"g":"f7","x":32.77,"y":1.65},{"g":"f7","x":33.19,"y":2.0},{"g":"f7","x":33.62,"y":1.91},{"g":"f7","x":33.84,"y":1.04},{"g":"f7","x":34.26,"y":0.61},{"g":"f7","x":34.7,"y":0.87},{"g":"f7","x":35.12,"y":1.13},{"g":"f7","x":35.42,"y":0.87},{"g":"f7","x":34.9,"y":0.34},{"g":"f7","x":35.12,"y":0.17},{"g":"f7","x":35.54,"y":0.26},{"g":"f7","x":36.19,"y":0.08},{"g":"f7","x":36.62,"y":-0.21},{"g":"f7","x":37.05,"y":-0.35},
{"g":"f8","x":37.47,"y":-0.31},{"g":"f8","x":37.27,"y":0},{"g":"f8","x":36.7,"y":0.43},{"g":"f8","x":36.62,"y":0.87},{"g":"f8","x":37.05,"y":0.96},{"g":"f8","x":37.69,"y":0.61},{"g":"f8","x":38.12,"y":0.43},{"g":"f8","x":38.56,"y":0.61},{"g":"f8","x":38.98,"y":1.22},{"g":"f8","x":39.63,"y":1.83},{"g":"f8","x":40.27,"y":2.09},{"g":"f8","x":40.91,"y":2.0},{"g":"f8","x":41.26,"y":1.65},{"g":"f8","x":40.91,"y":1.04},{"g":"f8","x":40.56,"y":0.52},{"g":"f8","x":40.48,"y":-0.31},
{"g":"f9","x":42.42,"y":-0.31},{"g":"f9","x":42.84,"y":0.34},{"g":"f9","x":43.27,"y":1.22},{"g":"f9","x":43.7,"y":1.74},{"g":"f9","x":44.0,"y":1.78},{"g":"f9","x":44.34,"y":1.57},{"g":"f9","x":44.77,"y":1.25},{"g":"f9","x":45.63,"y":1.18},{"g":"f9","x":46.91,"y":1.18},{"g":"f9","x":47.6,"y":1.1},{"g":"f9","x":47.9,"y":0.87},{"g":"f9","x":47.93,"y":0.17},{"g":"f9","x":47.75,"y":-0.3},
{"g":"f10","x":48.4,"y":-0.18},{"g":"f10","x":49.1,"y":0.43},{"g":"f10","x":49.8,"y":0.9},{"g":"f10","x":50.5,"y":1.13}
]},"mark":"line","encoding":{"detail":{"field":"g"},"order":{"value":null}}},
{"data":{"values":[{"x":4.03,"y":2.09,"t":"E"},{"x":5.32,"y":0.17,"t":"W"},{"x":15.4,"y":1.91,"t":"E"},{"x":17.33,"y":0.26,"t":"W"},{"x":30.4,"y":2.69,"t":"E"},{"x":31.48,"y":0.61,"t":"W"},{"x":39.63,"y":0.17,"t":"W"},{"x":43.34,"y":2.35,"t":"E"},{"x":45.4,"y":0.43,"t":"W"},{"x":50.6,"y":0.34,"t":"W"}]},"mark":{"type":"text","fontSize":14},"encoding":{"text":{"field":"t"}}},
{"data":{"values":[{"x":9.18,"y":3.3,"t":"w"},{"x":10.03,"y":-0.05,"t":"w"}]},"mark":{"type":"text","fontSize":8,"fontWeight":"bold"},"encoding":{"text":{"field":"t"}}},
{"data":{"values":[{"x":14.6,"y":-2.18,"t":"J U N E"},{"x":41.3,"y":-1.92,"t":"J U L Y"}]},"mark":{"type":"text","fontSize":7,"fontWeight":"bold"},"encoding":{"text":{"field":"t"}}}
]},
{"width":384,"height":85,
"title":{"text":["","(g)","KOROR"],"dx":46,"offset":13,"lineHeight":16},
"encoding":{"x":{"field":"x","type":"quantitative","scale":{"domain":[-2.717,46.63],"nice":false,"zero":false},"axis":{"title":null,"values":[2,4,6,8,10,12,14,16,18,20,22,24,26,28,30,32,34,36,38,40,42,44],"labelExpr":"datum.value > 30 ? datum.value - 30 : datum.value","labelPadding":7}},
"y":{"field":"y","type":"quantitative","scale":{"domain":[-0.25,4],"nice":false,"zero":false},"axis":{"title":"hPa","values":[0,1,2,3,4],"labelExpr":"['850','600','400','250','150'][datum.value]","offset":-23}}},
"layer":[
{"data":{"values":[{"x":0.25,"x2":46.63,"y":-0.25}]},"mark":"rule","encoding":{"x2":{"field":"x2"}}},
{"data":{"values":[
{"g":"g1","x":8.16,"y":3.84},{"g":"g1","x":8.43,"y":3.42},{"g":"g1","x":8.98,"y":3.14},{"g":"g1","x":9.53,"y":3.37},{"g":"g1","x":9.89,"y":3.59},{"g":"g1","x":10.26,"y":3.25},{"g":"g1","x":10.73,"y":3.14},{"g":"g1","x":11.18,"y":3.42},{"g":"g1","x":11.09,"y":3.8},{"g":"g1","x":10.73,"y":4.0},
{"g":"g2","x":2.64,"y":-0.25},{"g":"g2","x":2.93,"y":0.34},{"g":"g2","x":3.7,"y":0.7},{"g":"g2","x":4.48,"y":0.97},{"g":"g2","x":4.85,"y":1.5},{"g":"g2","x":5.3,"y":1.95},{"g":"g2","x":6.0,"y":2.04},{"g":"g2","x":6.46,"y":1.75},{"g":"g2","x":6.46,"y":1.17},{"g":"g2","x":6.23,"y":0.84},{"g":"g2","x":6.32,"y":0.59},{"g":"g2","x":5.77,"y":0.59},{"g":"g2","x":5.39,"y":0.75},{"g":"g2","x":4.98,"y":0.5},{"g":"g2","x":5.07,"y":0.09},{"g":"g2","x":5.39,"y":-0.25},
{"g":"g3","x":12.1,"y":-0.22},{"g":"g3","x":12.46,"y":0.34},{"g":"g3","x":12.75,"y":0.75},{"g":"g3","x":13.34,"y":0.75},{"g":"g3","x":13.57,"y":0.34},{"g":"g3","x":13.48,"y":-0.2},
{"g":"g3b","x":12.7,"y":0.05},{"g":"g3b","x":12.9,"y":0.3},{"g":"g3b","x":13.2,"y":0.3},{"g":"g3b","x":13.35,"y":0.05},
{"g":"g4","x":14.49,"y":-0.2},{"g":"g4","x":14.58,"y":0.34},{"g":"g4","x":14.94,"y":0.67},{"g":"g4","x":15.41,"y":0.64},{"g":"g4","x":15.68,"y":0.34},{"g":"g4","x":15.78,"y":-0.2},
{"g":"g4b","x":15.0,"y":0.05},{"g":"g4b","x":15.2,"y":0.25},{"g":"g4b","x":15.45,"y":0.05},
{"g":"g5","x":19.08,"y":-0.2},{"g":"g5","x":19.53,"y":0.34},{"g":"g5","x":20.23,"y":0.59},{"g":"g5","x":20.69,"y":0.92},{"g":"g5","x":21.14,"y":1.0},{"g":"g5","x":21.37,"y":0.67},{"g":"g5","x":21.28,"y":-0.2},
{"g":"g6","x":26.65,"y":-0.2},{"g":"g6","x":26.19,"y":0.84},{"g":"g6","x":25.6,"y":1.5},{"g":"g6","x":25.51,"y":1.92},{"g":"g6","x":25.96,"y":2.14},{"g":"g6","x":27.12,"y":2.09},{"g":"g6","x":28.26,"y":2.04},{"g":"g6","x":29.4,"y":2.17},{"g":"g6","x":30.1,"y":2.14},{"g":"g6","x":30.33,"y":1.67},{"g":"g6","x":30.33,"y":1.0},{"g":"g6","x":30.78,"y":0.67},{"g":"g6","x":31.47,"y":1.0},{"g":"g6","x":32.39,"y":1.2},{"g":"g6","x":33.31,"y":1.09},{"g":"g6","x":33.99,"y":0.87},{"g":"g6","x":34.69,"y":1.34},{"g":"g6","x":35.6,"y":1.84},{"g":"g6","x":36.52,"y":2.17},{"g":"g6","x":37.44,"y":2.25},{"g":"g6","x":38.36,"y":2.0},{"g":"g6","x":39.04,"y":1.34},{"g":"g6","x":39.74,"y":0.5},{"g":"g6","x":40.2,"y":0.25},{"g":"g6","x":41.11,"y":0.59},{"g":"g6","x":42.03,"y":0.84},{"g":"g6","x":42.49,"y":1.09},{"g":"g6","x":42.86,"y":1.75},{"g":"g6","x":43.18,"y":1.92},{"g":"g6","x":43.41,"y":1.5},{"g":"g6","x":43.63,"y":0.92},{"g":"g6","x":44.56,"y":0.75},{"g":"g6","x":45.02,"y":0.75}
]},"mark":"line","encoding":{"detail":{"field":"g"},"order":{"value":null}}},
{"data":{"values":[{"x":1.54,"y":1.75,"t":"E"},{"x":8.98,"y":0.42,"t":"E"},{"x":14.49,"y":2.17,"t":"E"},{"x":28.03,"y":2.67,"t":"E"},{"x":28.17,"y":1.09,"t":"W"},{"x":32.62,"y":0.5,"t":"W"},{"x":36.3,"y":2.75,"t":"E"},{"x":36.76,"y":1.17,"t":"W"},{"x":40.88,"y":1.42,"t":"E"},{"x":43.41,"y":0.5,"t":"W"},{"x":8.98,"y":4.0,"t":"W"}]},"mark":{"type":"text","fontSize":14},"encoding":{"text":{"field":"t"}}},
{"data":{"values":[{"x":5.44,"y":1.17,"t":"W"}]},"mark":{"type":"text","fontSize":9,"fontWeight":"bold"},"encoding":{"text":{"field":"t"}}},
{"data":{"values":[{"x":11.96,"y":-2.13,"t":"J U N E"},{"x":39.04,"y":-2.13,"t":"J U L Y"}]},"mark":{"type":"text","fontSize":7,"fontWeight":"bold"},"encoding":{"text":{"field":"t"}}}
]}
]}
